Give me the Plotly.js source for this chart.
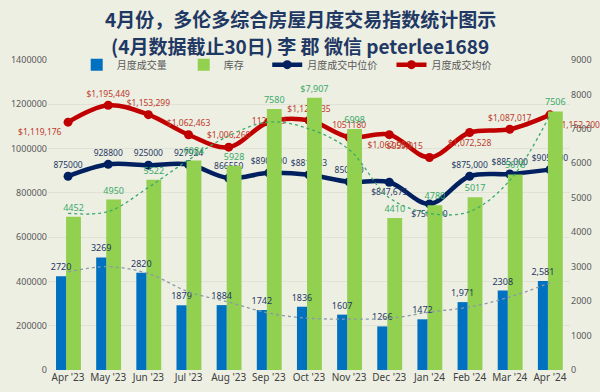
<!DOCTYPE html>
<html>
<head>
<meta charset="utf-8">
<script src="https://cdn.plot.ly/plotly-3.0.1.min.js"></script>
<style>html,body{margin:0;padding:0;background:#edefe3;}#chart{width:600px;height:392px;}</style>
</head>
<body>
<div id="chart"></div>
<script>
const months = ["Apr '23","May '23","Jun '23","Jul '23","Aug '23","Sep '23","Oct '23","Nov '23","Dec '23","Jan '24","Feb '24","Mar '24","Apr '24"];
const volume = [2720,3269,2820,1879,1884,1742,1836,1607,1266,1472,1971,2308,2581];
const volumeLabels = ["2720","3269","2820","1879","1884","1742","1836","1607","1266","1472","1,971","2308","2,581"];
const inventory = [4452,4950,5522,6084,5928,7580,7907,6998,4410,4780,5017,5678,7506];
const inventoryLabels = ["4452","4950","5522","6084","5928","7580","$7,907","6998","4410","4780","5017","5678","7506"];
const medianPrice = [875000,928800,925000,927924,866550,890500,881833,850000,847675,750000,875000,885000,905000];
const medianLabels = ["875000","928800","925000","927924","866550","$890,500","$881,833","850000","$847,675","$750,000","$875,000","$885,000","$905,000"];
const avgPrice = [1119176,1195449,1153299,1062463,1006260,1120029,1127635,1051180,1062950,959915,1072528,1087017,1152200];
const avgLabels = ["$1,119,176","$1,195,449","$1,153,299","$1,062,463","$1,006,260","1120029","$1,127,635","1051180","$1,062,950","$959,915","$1,072,528","$1,087,017","$1,152,200"];
// trendlines
const volumeTrend = [2850,3000,2800,2270,1970,1650,1500,1480,1500,1680,1830,2120,2530];
const inventoryTrend = [4550,4600,5300,6100,6800,7200,7000,6400,5000,4550,4600,5500,7400];
const titleLines = ['4月份，多伦多综合房屋月度交易指数统计图示','(4月数据截止30日) 李 郡 微信 peterlee1689'];

const avgPos = ["bottom left","top center","top center","top center","top center","middle center","top center","top center","bottom center","top left","bottom center","top center","bottom right"];
const medPos = ["top center","top center","top center","top center","top center","top center","top center","top center","bottom center","bottom center","top center","top center","top center"];

const lblFont = {family:"Noto Sans, sans-serif", size:8.5};
const barLblFont = {family:"Noto Sans, sans-serif", size:9};

const traces = [
  {type:'bar', name:'库存', legend:'legend2', x:months, y:inventory, yaxis:'y2', width:0.37, offset:-0.05,
   marker:{color:'#92d050'}, text:inventoryLabels, textposition:'outside', cliponaxis:false, constraintext:'none',
   textfont:Object.assign({color:'#3aaa6a'}, barLblFont), hoverinfo:'skip'},
  {type:'bar', name:'月度成交量', legend:'legend', x:months, y:volume, yaxis:'y2', width:0.25, offset:-0.3,
   marker:{color:'#0070c0'}, text:volumeLabels, textposition:'outside', cliponaxis:false, constraintext:'none',
   textfont:Object.assign({color:'#1f3864'}, barLblFont), hoverinfo:'skip'},
  {type:'scatter', mode:'lines', x:months, y:volumeTrend, yaxis:'y2', showlegend:false,
   line:{color:'#8a9aa8', width:1.3, dash:'dot', shape:'spline'}, hoverinfo:'skip'},
  {type:'scatter', mode:'lines', x:months, y:inventoryTrend, yaxis:'y2', showlegend:false,
   line:{color:'#3aaa6a', width:1.3, dash:'dot', shape:'spline'}, hoverinfo:'skip'},
  {type:'scatter', name:'月度成交中位价', legend:'legend3', mode:'lines+markers+text', x:months, y:medianPrice,
   line:{color:'#002060', width:4.5, shape:'spline'}, marker:{color:'#002060', size:9},
   text:medianLabels, textposition:medPos, cliponaxis:false,
   textfont:Object.assign({color:'#1f3864'}, lblFont)},
  {type:'scatter', name:'月度成交均价', legend:'legend4', mode:'lines+markers+text', x:months, y:avgPrice,
   line:{color:'#c00000', width:4.5, shape:'spline'}, marker:{color:'#c00000', size:9},
   text:avgLabels, textposition:avgPos, cliponaxis:false,
   textfont:Object.assign({color:'#c0392b'}, lblFont)}
];

const titleFont = {family:'Noto Sans CJK SC, sans-serif', size:19, color:'#1f3864', weight:'bold'};
function leg(x){
  return {orientation:'h', x:x, xanchor:'left', y:0.985, yanchor:'middle',
    font:{family:'Noto Sans CJK SC, sans-serif', size:10, color:'#595959'},
    bgcolor:'rgba(0,0,0,0)', itemwidth:30};
}

const layout = {
  width:600, height:392,
  paper_bgcolor:'#edefe3', plot_bgcolor:'#edefe3',
  margin:{l:48, r:30, t:60, b:22},
  barmode:'overlay',
  font:{family:'Noto Sans, sans-serif', size:9, color:'#595959'},
  annotations:[
    {text:titleLines[0], xref:'paper', yref:'paper', x:0.483, y:1.135, xanchor:'center', yanchor:'middle', showarrow:false, font:titleFont},
    {text:titleLines[1], xref:'paper', yref:'paper', x:0.483, y:1.048, xanchor:'center', yanchor:'middle', showarrow:false, font:titleFont}
  ],
  xaxis:{type:'category', tickfont:{size:10, color:'#404040'}, showgrid:false, zeroline:false,
    showline:false, ticks:'', range:[-0.5,12.5]},
  yaxis:{range:[0,1400000], dtick:200000, tickformat:'d', showgrid:true, gridcolor:'#e0e2d6',
    zeroline:false, tickfont:{size:9, color:'#595959'}, ticks:''},
  yaxis2:{range:[0,9000], dtick:1000, overlaying:'y', side:'right', showgrid:false, zeroline:false,
    tickfont:{size:9, color:'#595959'}, ticks:''},
  legend:leg(0.055),
  legend2:leg(0.26),
  legend3:leg(0.42),
  legend4:leg(0.658),
  showlegend:true
};

Plotly.newPlot('chart', traces, layout, {displayModeBar:false, staticPlot:true});
</script>
</body>
</html>
